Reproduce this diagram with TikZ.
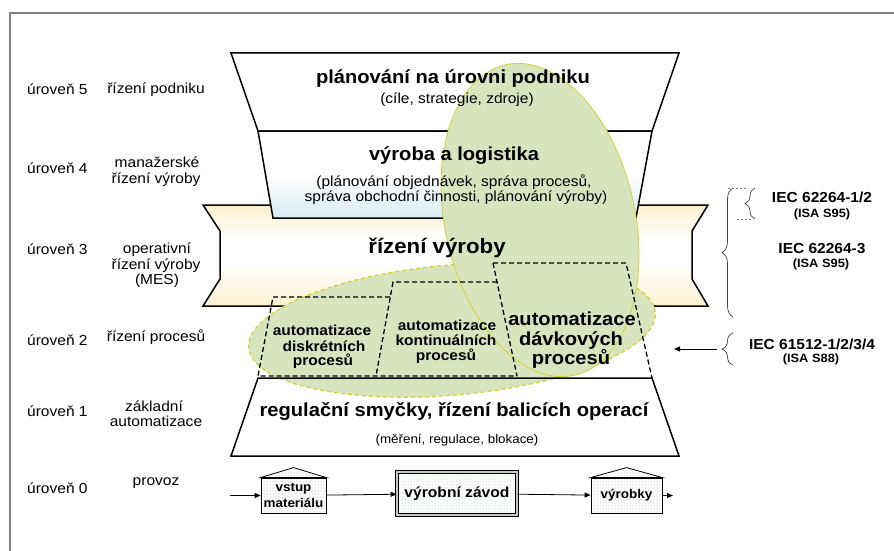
\documentclass[tikz,border=0pt]{standalone}
\usepackage{fontspec}
\setmainfont{Liberation Sans}[FakeStretch=1.07]
\usetikzlibrary{arrows.meta,patterns,decorations.pathreplacing}
\definecolor{egreen}{HTML}{D7E4BD}
\definecolor{ayel}{HTML}{D2D23C}
\definecolor{bandyel}{HTML}{FAF1CD}
\definecolor{lblue}{HTML}{D8EBF1}
\definecolor{framegray}{HTML}{808080}
\pgfdeclareverticalshading{bandshade}{100bp}{color(0bp)=(bandyel); color(25bp)=(bandyel); color(45bp)=(white); color(58bp)=(white); color(75bp)=(bandyel); color(100bp)=(bandyel)}
\pgfdeclareverticalshading{bluishade}{100bp}{color(0bp)=(lblue); color(25bp)=(lblue); color(50bp)=(white); color(100bp)=(white)}
\tikzset{
  lvl/.style={draw=black, line width=1.5pt, line join=miter},
  lft/.style={font=\fontsize{14.5}{17}\selectfont, inner sep=0pt, anchor=base west},
  lbl/.style={font=\fontsize{14.5}{17}\selectfont, inner sep=0pt, anchor=base},
  sml/.style={font=\fontsize{12.5}{15}\selectfont, inner sep=0pt, anchor=base},
  ttl/.style={font=\bfseries\fontsize{18.8}{22}\selectfont, inner sep=0pt, anchor=base},
  big/.style={font=\bfseries\fontsize{20.8}{24}\selectfont, inner sep=0pt, anchor=base},
  bmid/.style={font=\bfseries\fontsize{14.5}{17}\selectfont, inner sep=0pt, anchor=base},
  bsml/.style={font=\bfseries\fontsize{12}{14}\selectfont, inner sep=0pt, anchor=base},
  dsh/.style={draw=black, line width=1.3pt, dash pattern=on 5pt off 3pt},
  arr/.style={draw=black, line width=0.8pt, -{Triangle[length=6pt,width=5pt]}},
  brc/.style={draw=black!75, line width=0.7pt, decorate, decoration={brace, amplitude=#1}},
  house/.style={draw=black, line width=0.8pt, pattern=dots, pattern color=blue!35!gray!60,
     minimum height=35pt, inner sep=0pt, align=center, font=\bfseries\fontsize{12.6}{16.6}\selectfont},
}
\begin{document}
\begin{tikzpicture}[x=1pt,y=-1pt]
\useasboundingbox (0,0) rectangle (894,551);
% frame
\draw[framegray, line width=1.5pt] (10,551) -- (10,13) -- (894,13);

% level 5
\path[lvl, fill=white] (231,53) -- (679,53) -- (652,131) -- (258,131) -- cycle;
% level 3 band
\path[lvl, shading=bandshade]
  (203,205) -- (708,205) -- (692,231) -- (692,279) -- (708,306) -- (203,306)
  -- (220,279) -- (220,231) -- cycle;
% level 4
\path[lvl, shading=bluishade]
  (258,131) -- (652,131) -- (636,218) -- (273,218) -- cycle;
% level 1 background
\fill[white] (258,378) -- (652,378) -- (679,456) -- (231,456) -- cycle;

% ellipses
\path[fill=egreen, draw=ayel, line width=1.3pt, dash pattern=on 4pt off 3pt,
      rotate around={5:(452,330)}] (452,330) ellipse [x radius=204pt, y radius=65pt];
\path[fill=egreen, draw=ayel, line width=0.8pt,
      rotate around={12.5:(540,220)}] (540,220) ellipse [x radius=95pt, y radius=159pt];

% level 1 outline
\path[lvl] (258,378) -- (652,378) -- (679,456) -- (231,456) -- cycle;

% dashed process boxes
\draw[dsh] (493,263) -- (626,263) -- (652,378);
\draw[dsh] (493,263) -- (517,376);
\draw[dsh] (497,282) -- (393,282) -- (376,376);
\draw[dsh] (390,297) -- (273,297) -- (258,376) -- (517,376);

% level texts
\node[ttl] (t5) at (453,83) {plánování na úrovni podniku};
\node[lbl] (t5s) at (457,103) {(cíle, strategie, zdroje)};
\node[ttl] (t4) at (454,160) {výroba a logistika};
\node[lbl] (t4s1) at (454,186) {(plánování objednávek, správa procesů,};
\node[lbl] (t4s2) at (456,201) {správa obchodní činnosti, plánování výroby)};
\node[big] (t3) at (437,253) {řízení výroby};
\node[ttl] (t1) at (454,416) {regulační smyčky, řízení balicích operací};
\node[sml] (t1s) at (457,443) {(měření, regulace, blokace)};

\node[bmid] (d1a) at (322,335) {automatizace};
\node[bmid] (d1b) at (324,351) {diskrétních};
\node[bmid] (d1c) at (323,365) {procesů};
\node[bmid] (k2a) at (447,330) {automatizace};
\node[bmid] (k2b) at (446,345) {kontinuálních};
\node[bmid] (k2c) at (446,360) {procesů};
\node[ttl] (b3a) at (572,325) {automatizace};
\node[ttl] (b3b) at (571,345) {dávkových};
\node[ttl] (b3c) at (571,364) {procesů};

% left labels
\node[lft] (u5) at (27,94) {úroveň 5};
\node[lbl] (n5) at (156,93) {řízení podniku};
\node[lft] (u4) at (27,173) {úroveň 4};
\node[lbl] (n4a) at (157,167) {manažerské};
\node[lbl] (n4b) at (156,183) {řízení výroby};
\node[lft] (u3) at (27,254) {úroveň 3};
\node[lbl] (n3a) at (157,253) {operativní};
\node[lbl] (n3b) at (156,269) {řízení výroby};
\node[lbl] (n3c) at (157,284) {(MES)};
\node[lft] (u2) at (27,345) {úroveň 2};
\node[lbl] (n2) at (156,341) {řízení procesů};
\node[lft] (u1) at (27,416) {úroveň 1};
\node[lbl] (n1a) at (154,411) {základní};
\node[lbl] (n1b) at (156,426) {automatizace};
\node[lft] (u0) at (27,493) {úroveň 0};
\node[lbl] (n0) at (156,485) {provoz};

% right labels
\node[bmid] (iec1) at (822,202) {IEC 62264-1/2};
\node[bsml] (isa1) at (822,217) {(ISA S95)};
\node[bmid] (iec2) at (822,253) {IEC 62264-3};
\node[bsml] (isa2) at (821,267) {(ISA S95)};
\node[bmid] (iec3) at (812,349) {IEC 61512-1/2/3/4};
\node[bsml] (isa3) at (811,362) {(ISA S88)};

% braces
\draw[brc=11pt] (733,317) -- (733,188);
\draw[brc=10pt] (755,219) -- (755,188);
\draw[gray, line width=0.6pt, dash pattern=on 2pt off 2pt] (728,188) -- (748,188);
\draw[gray, line width=0.6pt, dash pattern=on 2pt off 2pt] (737,219) -- (752,219);
\draw[brc=11pt] (733,365) -- (733,333);
\coordinate (btip) at (717,349);
\coordinate (bend) at (674,349);
\draw[arr] (btip) -- (bend);

% level 0 flow
\node[house, minimum width=65pt] (in) at (293.5,495.5) {vstup\\materiálu};
\node[draw=black, line width=0.8pt, double=gray!45, double distance=1.6pt,
      pattern=dots, pattern color=green!45!gray!60,
      minimum width=120pt, minimum height=43pt, inner sep=0pt,
      font=\bfseries\fontsize{14.6}{17}\selectfont] (plant) at (457,493.5) {výrobní závod};
\node[house, minimum width=71pt] (out) at (626.5,495.5) {výrobky};
\path (in.north) ++(0,-10) coordinate (inroof);
\path (out.north) ++(0,-10) coordinate (outroof);
\draw[line width=0.8pt, pattern=dots, pattern color=gray!70] (in.north west) -- (inroof) -- (in.north east) -- cycle;
\draw[line width=0.8pt, pattern=dots, pattern color=gray!70] (out.north west) -- (outroof) -- (out.north east) -- cycle;
\coordinate (src) at (230,495.5);
\coordinate (sink) at (673,495.5);
\draw[arr] (src) -- (in);
\draw[arr] (in) -- (plant);
\draw[arr] (plant) -- (out);
\draw[arr] (out) -- (sink);
\end{tikzpicture}
\end{document}
